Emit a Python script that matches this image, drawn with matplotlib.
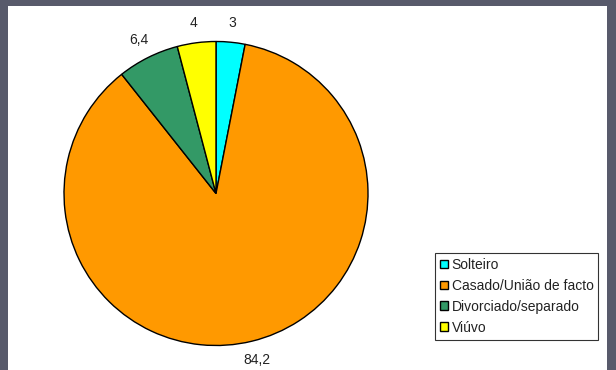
import matplotlib
matplotlib.use("Agg")
import matplotlib.pyplot as plt
from matplotlib.patches import Rectangle

categories = ["Solteiro", "Casado/União de facto", "Divorciado/separado", "Viúvo"]
values = [3, 84.2, 6.4, 4]
value_labels = ["3", "84,2", "6,4", "4"]
colors = ["#00FFFF", "#FF9900", "#339966", "#FFFF00"]

W, H = 616, 370
fig = plt.figure(figsize=(W / 100, H / 100), dpi=100)
fig.patch.set_facecolor("#585a6b")
plt.rcParams["font.family"] = ["Liberation Sans", "DejaVu Sans"]

# white slide panel
fig.add_artist(Rectangle((8 / W, 0), (607 - 8) / W, (H - 6) / H,
                         transform=fig.transFigure, facecolor="white",
                         edgecolor="none", zorder=0))

# pie axes, centered at (216, 193.5) px with radius 152 px
R = 152
cx, cy = 216, 193.5
lim = 1.3
size = 2 * lim * R
ax = fig.add_axes([(cx - size / 2) / W, (H - cy - size / 2) / H, size / W, size / H])

wedges, texts = ax.pie(values, colors=colors, startangle=90, counterclock=False,
                       labels=value_labels, labeldistance=1.13,
                       wedgeprops=dict(edgecolor="black", linewidth=1.0),
                       textprops=dict(fontsize=10, color="#222222"))
ax.set_xlim(-lim, lim)
ax.set_ylim(-lim, lim)
ax.axis("off")
for t in texts:
    t.set_ha("center")
    t.set_va("center")

leg = fig.legend(wedges, categories, loc="upper left",
                 bbox_to_anchor=(435 / W, 1 - 253 / H),
                 fontsize=10, frameon=True, fancybox=False, shadow=False,
                 handlelength=0.6, handleheight=0.6, handletextpad=0.25,
                 labelspacing=0.5, borderpad=0.35, borderaxespad=0)
leg.get_frame().set_edgecolor("black")
leg.get_frame().set_linewidth(0.8)
for t in leg.get_texts():
    t.set_color("#222222")

fig.savefig("out.png", dpi=100, facecolor=fig.get_facecolor())
